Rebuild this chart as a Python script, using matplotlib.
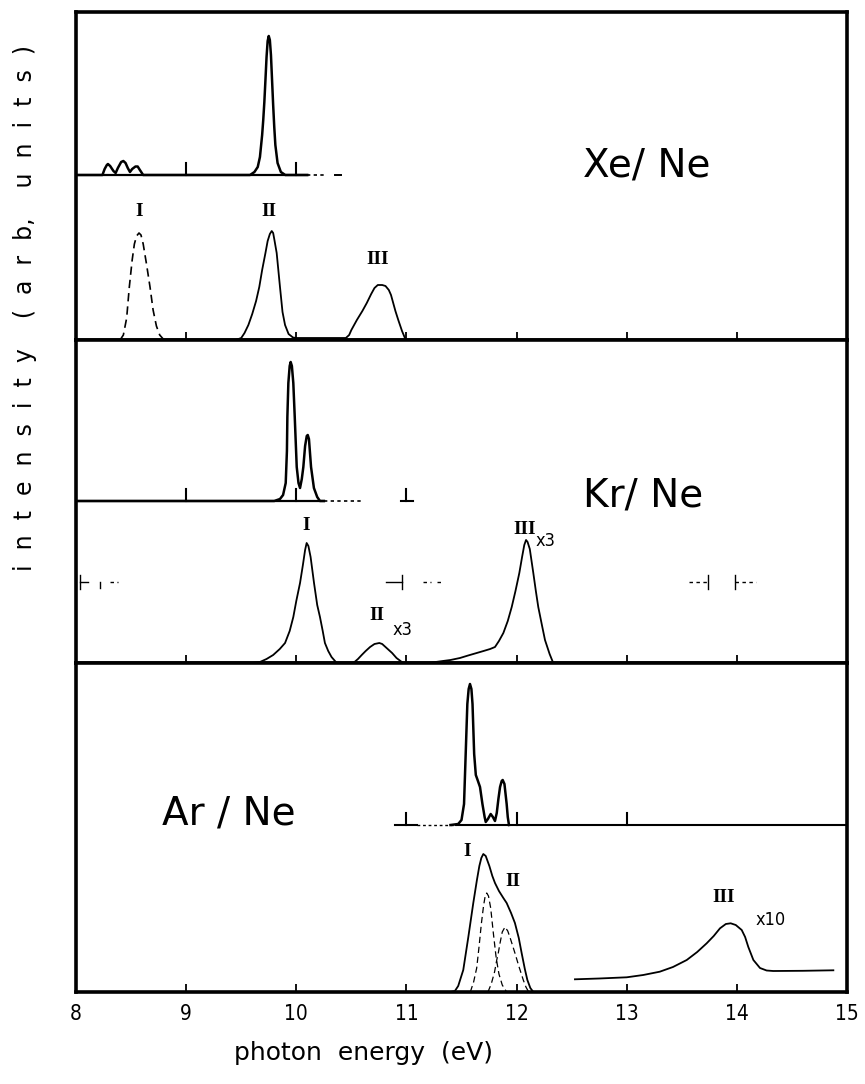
import numpy as np
import matplotlib.pyplot as plt

# photon energy axis (eV)
x_min, x_max = 8.0, 15.0
x_ticks = [8, 9, 10, 11, 12, 13, 14, 15]

# ---------------- Xe / Ne ----------------
xe_inset_E = [8.00, 8.24, 8.26, 8.28, 8.29, 8.31, 8.34, 8.36, 8.38, 8.41, 8.43, 8.45, 8.47,
              8.49, 8.51, 8.54, 8.56, 8.58, 8.61, 9.58, 9.62, 9.65, 9.67, 9.69, 9.70, 9.71,
              9.72, 9.73, 9.74, 9.75, 9.76, 9.77, 9.78, 9.79, 9.80, 9.81, 9.83, 9.86, 9.90, 10.10]
xe_inset_I = [0.0, 0.0, 0.6, 1.0, 1.1, 0.9, 0.4, 0.2, 0.7, 1.3, 1.4, 1.2, 0.7,
              0.3, 0.6, 0.85, 0.85, 0.5, 0.0, 0.0, 0.3, 0.8, 1.8, 4.0, 5.5, 7.3,
              9.5, 11.8, 13.4, 13.9, 13.5, 12.0, 9.5, 7.0, 4.8, 3.0, 1.2, 0.3, 0.0, 0.0]

xe_I_E = [8.40, 8.43, 8.46, 8.484, 8.51, 8.53, 8.55, 8.572, 8.59, 8.61, 8.64, 8.672, 8.70,
          8.73, 8.76, 8.80]
xe_I_I = [0.0, 0.5, 2.2, 5.3, 8.0, 9.6, 10.4, 10.7, 10.5, 9.6, 7.6, 5.3, 3.0, 1.4, 0.5, 0.0]

xe_II_III_E = [9.45, 9.50, 9.53, 9.565, 9.60, 9.635, 9.664, 9.69, 9.72, 9.74, 9.76, 9.777,
               9.79, 9.80, 9.822, 9.852, 9.875, 9.898, 9.93, 9.97, 10.00, 10.45, 10.48,
               10.50, 10.55, 10.60, 10.64, 10.68, 10.71, 10.74, 10.78, 10.81, 10.84, 10.86,
               10.88, 10.90, 10.926, 10.96, 10.99]
xe_II_III_I = [0.0, 0.2, 0.7, 1.5, 2.6, 3.9, 5.3, 7.0, 8.7, 9.9, 10.6, 10.9,
               10.7, 10.1, 8.7, 5.3, 2.8, 1.5, 0.6, 0.25, 0.2, 0.2, 0.5,
               1.0, 2.0, 2.9, 3.7, 4.6, 5.2, 5.5, 5.5, 5.4, 5.0, 4.5,
               3.7, 2.9, 2.0, 0.9, 0.1]

# ---------------- Kr / Ne ----------------
kr_inset_E = [8.00, 9.80, 9.852, 9.88, 9.904, 9.915, 9.919, 9.928, 9.94, 9.949, 9.96, 9.973,
              9.986, 10.004, 10.02, 10.034, 10.05, 10.064, 10.08, 10.095, 10.104, 10.115,
              10.134, 10.16, 10.19, 10.215, 10.25]
kr_inset_I = [0.0, 0.0, 0.2, 0.6, 1.8, 5.0, 8.4, 11.8, 13.5, 13.9, 13.5, 11.8,
              8.4, 3.4, 1.8, 1.3, 2.2, 3.4, 5.5, 6.5, 6.6, 6.2,
              3.4, 1.3, 0.4, 0.0, 0.0]

kr_main_E = [9.60, 9.67, 9.73, 9.79, 9.85, 9.898, 9.94, 9.973, 10.00, 10.034, 10.06, 10.08,
             10.094, 10.11, 10.13, 10.161, 10.19, 10.215, 10.24, 10.26, 10.29, 10.32, 10.367,
             10.518, 10.56, 10.594, 10.63, 10.67, 10.71, 10.754, 10.78, 10.82, 10.87, 10.91,
             10.97, 11.20, 11.33, 11.40, 11.486, 11.56, 11.638, 11.70, 11.76, 11.804, 11.84,
             11.88, 11.92, 11.956, 11.99, 12.025, 12.05, 12.07, 12.086, 12.10, 12.12, 12.152,
             12.175, 12.197, 12.23, 12.258, 12.30, 12.333]
kr_main_I = [0.0, 0.1, 0.4, 0.8, 1.4, 2.0, 3.2, 4.6, 6.2, 8.0, 9.8, 11.3,
             12.0, 11.7, 10.6, 8.0, 5.8, 4.6, 3.2, 2.0, 1.2, 0.6, 0.0,
             0.0, 0.4, 0.8, 1.2, 1.6, 1.9, 2.0, 1.9, 1.5, 1.0, 0.5,
             0.0, 0.0, 0.2, 0.3, 0.5, 0.75, 1.0, 1.2, 1.4, 1.6, 2.2,
             3.0, 4.2, 5.6, 7.2, 9.0, 10.6, 11.8, 12.3, 12.1, 11.4, 9.0,
             7.2, 5.6, 3.8, 2.3, 0.9, 0.0]

# bars marking line positions in the Kr/Ne spectrum
kr_bar_level = 8.1
kr_bar_segments = [(8.04, 8.11), (8.31, 8.38), (10.81, 10.96), (11.15, 11.22),
                   (11.28, 11.33), (13.57, 13.74), (13.98, 14.17)]
kr_bar_dashed = [False, True, False, True, True, True, True]
kr_bar_caps = [8.04, 10.96, 13.74, 13.98]

# ---------------- Ar / Ne ----------------
ar_inset_E = [11.40, 11.47, 11.50, 11.523, 11.538, 11.553, 11.565, 11.577, 11.59, 11.60,
              11.615, 11.63, 11.643, 11.668, 11.69, 11.71, 11.72, 11.74, 11.765, 11.785,
              11.804, 11.82, 11.835, 11.85, 11.865, 11.874, 11.89, 11.91, 11.92, 11.931]
ar_inset_I = [0.0, 0.1, 0.5, 2.1, 7.1, 12.1, 13.6, 14.1, 13.6, 12.1,
              7.1, 5.0, 4.6, 3.8, 2.1, 0.8, 0.3, 0.6, 1.1, 0.8,
              0.4, 1.2, 2.6, 3.8, 4.4, 4.5, 4.1, 2.1, 0.8, 0.0]

ar_total_E = [11.40, 11.44, 11.47, 11.516, 11.562, 11.607, 11.64, 11.662, 11.68, 11.698,
              11.72, 11.753, 11.78, 11.804, 11.84, 11.88, 11.91, 11.95, 11.985, 12.02,
              12.046, 12.075, 12.098, 12.125, 12.152]
ar_total_I = [0.0, 0.1, 0.6, 2.2, 5.5, 8.9, 11.2, 12.6, 13.4, 13.8,
              13.6, 12.6, 11.6, 10.9, 10.1, 9.4, 8.9, 7.9, 6.9, 5.4,
              3.9, 2.3, 1.2, 0.4, 0.0]

ar_I_E = [11.58, 11.61, 11.638, 11.66, 11.68, 11.70, 11.715, 11.729, 11.745, 11.765,
          11.79, 11.815, 11.84, 11.87, 11.91]
ar_I_I = [0.0, 1.0, 2.4, 4.6, 6.8, 8.6, 9.6, 9.9, 9.6, 8.4, 5.8, 3.4, 1.8, 0.7, 0.0]

ar_II_E = [11.74, 11.77, 11.80, 11.82, 11.834, 11.85, 11.87, 11.895, 11.92, 11.945,
           11.965, 11.985, 12.02, 12.061, 12.085, 12.11]
ar_II_I = [0.0, 0.8, 2.0, 3.2, 3.9, 4.9, 6.0, 6.5, 6.1, 5.3, 4.6, 3.9, 2.6, 1.2, 0.5, 0.0]

ar_III_E = [12.53, 12.75, 13.00, 13.15, 13.30, 13.42, 13.545, 13.64, 13.726, 13.79, 13.847,
            13.90, 13.944, 13.99, 14.044, 14.075, 14.104, 14.15, 14.21, 14.27, 14.33,
            14.60, 14.876]
ar_III_I = [1.27, 1.35, 1.47, 1.7, 2.03, 2.5, 3.2, 4.0, 4.87, 5.6, 6.37,
            6.8, 6.87, 6.7, 6.2, 5.5, 4.5, 3.2, 2.4, 2.15, 2.1,
            2.12, 2.17]

# inset baselines (height above panel bottom) and their tick positions
xe_offset, kr_offset, ar_offset = 16.5, 16.2, 16.7
xe_inset_ticks = [9, 10]
kr_inset_ticks = [9, 10, 11]
ar_inset_ticks = [11, 12, 13]

plt.rcParams['font.family'] = ['DejaVu Sans']

fig = plt.figure(figsize=(8.65, 10.84), dpi=100)
left, width = 76 / 865, (847 - 76) / 865
H = 1084.0
ax_xe = fig.add_axes([left, 1 - 340 / H, width, 328 / H])
ax_kr = fig.add_axes([left, 1 - 663 / H, width, 323 / H])
ax_ar = fig.add_axes([left, 1 - 992 / H, width, 329 / H])
heights = [32.8, 32.3, 32.9]

for ax, h in zip([ax_xe, ax_kr, ax_ar], heights):
    ax.set_xlim(x_min, x_max)
    ax.set_ylim(0, h)
    ax.set_yticks([])
    ax.set_xticks(x_ticks)
    ax.tick_params(axis='x', direction='in', length=6, width=1.3, pad=9,
                   labelbottom=False, top=False)
    for sp in ax.spines.values():
        sp.set_linewidth(2.6)

ax_ar.tick_params(axis='x', labelbottom=True, labelsize=15)
for lab in ax_ar.get_xticklabels():
    lab.set_fontstretch('condensed')

lw_main = 1.3
lw_inset = 1.8
roman = dict(family=['Liberation Serif', 'DejaVu Serif'], fontsize=14, ha='center',
             va='center', fontweight='bold')
small = dict(fontsize=13, ha='left', va='center', fontstretch='condensed')
big = dict(fontsize=28, ha='center', va='center')


def inset(ax, E, I, offset, ticks, lw=lw_inset):
    ax.plot(E, np.array(I) + offset, color='black', lw=lw, solid_joinstyle='round')
    for t in ticks:
        ax.plot([t, t], [offset, offset + 1.2], color='black', lw=1.5)


# Xe/Ne
ax = ax_xe
ax.plot([8.0, 10.10], [xe_offset, xe_offset], color='black', lw=1.6)
ax.plot([10.10, 10.25], [xe_offset, xe_offset], color='black', lw=1.2, ls=(0, (2, 2)))
ax.plot([10.35, 10.41], [xe_offset, xe_offset], color='black', lw=1.4)
inset(ax, xe_inset_E, xe_inset_I, xe_offset, xe_inset_ticks)
ax.plot(xe_I_E, xe_I_I, color='black', lw=1.2, ls=(0, (5, 3)))
ax.plot(xe_II_III_E, xe_II_III_I, color='black', lw=lw_main)
ax.text(8.575, 12.8, 'I', **roman)
ax.text(9.755, 12.9, 'II', **roman)
ax.text(10.74, 8.0, 'III', **roman)
ax.text(10.0 + (646 - 296) / 110.14, 32.8 - 15.3, 'Xe/ Ne', **big)

# Kr/Ne
ax = ax_kr
ax.plot([8.0, 10.25], [kr_offset, kr_offset], color='black', lw=1.6)
ax.plot([10.25, 10.60], [kr_offset, kr_offset], color='black', lw=1.2, ls=(0, (2, 2)))
ax.plot([10.95, 11.06], [kr_offset, kr_offset], color='black', lw=1.5)
inset(ax, kr_inset_E, kr_inset_I, kr_offset, kr_inset_ticks)
ax.plot(kr_main_E, kr_main_I, color='black', lw=lw_main)
for (a, b), dashed in zip(kr_bar_segments, kr_bar_dashed):
    ax.plot([a, b], [kr_bar_level, kr_bar_level], color='black', lw=1.0,
            ls=(0, (2.5, 2.5)) if dashed else '-')
for c in kr_bar_caps:
    ax.plot([c, c], [kr_bar_level - 0.7, kr_bar_level + 0.7], color='black', lw=1.0)
ax.plot([8.22, 8.22], [kr_bar_level - 0.6, kr_bar_level], color='black', lw=1.0)
ax.text(10.09, 13.7, 'I', **roman)
ax.text(10.73, 4.7, 'II', **roman)
ax.text(10.87, 3.3, 'x3', **small)
ax.text(12.07, 13.3, 'III', **roman)
ax.text(12.17, 12.2, 'x3', **small)
ax.text(12.0 + (643 - 516) / 110.14, 32.3 - 15.6, 'Kr/ Ne', **big)

# Ar/Ne
ax = ax_ar
ax.plot([10.90, 11.10], [ar_offset, ar_offset], color='black', lw=1.5)
ax.plot([11.10, 11.45], [ar_offset, ar_offset], color='black', lw=1.0, ls=(0, (2, 2)))
ax.plot([11.45, 15.0], [ar_offset, ar_offset], color='black', lw=1.5)
inset(ax, ar_inset_E, ar_inset_I, ar_offset, ar_inset_ticks)
ax.plot(ar_total_E, ar_total_I, color='black', lw=lw_main)
ax.plot(ar_I_E, ar_I_I, color='black', lw=0.9, ls=(0, (5, 3)))
ax.plot(ar_II_E, ar_II_I, color='black', lw=0.9, ls=(0, (5, 3)))
ax.plot(ar_III_E, ar_III_I, color='black', lw=lw_main)
ax.text(11.55, 14.0, 'I', **roman)
ax.text(11.97, 11.0, 'II', **roman)
ax.text(13.88, 9.5, 'III', **roman)
ax.text(14.17, 7.2, 'x10', **small)
ax.text(8.0 + (229 - 76) / 110.14, 32.9 - 15.0, 'Ar / Ne', **big)

fig.text(364 / 865, 1 - 1053 / H, 'photon  energy  (eV)', fontsize=18,
         ha='center', va='center')
ylabel = '    '.join('  '.join(w) for w in ['intensity', '(arb', 'units)'])
ylabel = ylabel.replace('b    u', 'b,    u')
fig.text(25 / 865, 1 - 308 / H, ylabel, fontsize=17, rotation=90,
         ha='center', va='center')

fig.savefig('out.png', dpi=100)
